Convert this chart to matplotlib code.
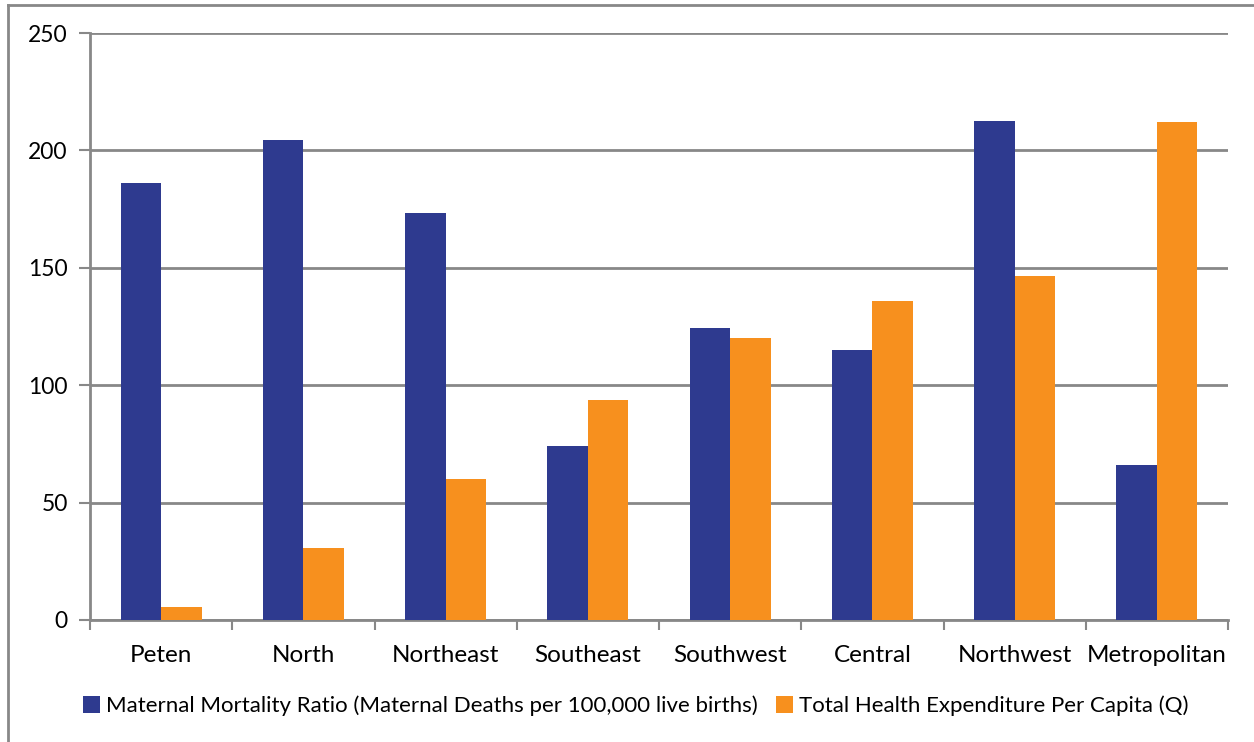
import matplotlib
matplotlib.use("Agg")
import matplotlib.pyplot as plt
import numpy as np
from matplotlib.patches import Patch
from matplotlib.lines import Line2D

categories = ["Peten", "North", "Northeast", "Southeast", "Southwest", "Central", "Northwest", "Metropolitan"]
mmr = [186, 204.5, 173.5, 74, 124.5, 115, 212.5, 66]
the = [5.5, 30.5, 60, 93.5, 120, 136, 146.5, 212]
series_names = ["Maternal Mortality Ratio (Maternal Deaths per 100,000 live births)",
                "Total Health Expenditure Per Capita (Q)"]
yticks = [0, 50, 100, 150, 200, 250]

blue = "#2E3A8F"
orange = "#F7901E"
grid = "#888888"

plt.rcParams['font.family'] = ['Lato', 'DejaVu Sans']

W, H = 1254, 742
fig = plt.figure(figsize=(W / 100, H / 100), dpi=100)
ax = fig.add_axes([90 / W, 1 - 620 / H, (1228 - 90) / W, (620 - 33) / H])

x = np.arange(len(categories))
bw = 0.285
ax.bar(x - bw / 2, mmr, bw, color=blue, zorder=3)
ax.bar(x + bw / 2, the, bw, color=orange, zorder=3)

ax.set_xlim(-0.5, len(categories) - 0.5)
ax.set_ylim(0, 250)
ax.set_yticks(yticks)
ax.set_yticklabels([str(v) for v in yticks], fontsize=16.5)
ax.yaxis.grid(True, color=grid, linewidth=2, zorder=0)
ax.set_axisbelow(True)

ax.set_xticks(np.arange(len(categories) + 1) - 0.5, minor=False)
ax.set_xticklabels([])
ax.set_xticks(x, minor=True)
ax.set_xticklabels(categories, minor=True, fontsize=17.5)
ax.tick_params(axis='x', which='major', length=7, width=1.5, color=grid, direction='out')
ax.tick_params(axis='x', which='minor', length=0, pad=18)
ax.tick_params(axis='y', length=8, width=1.5, color=grid, direction='out', pad=8)

for s in ['top', 'right']:
    ax.spines[s].set_visible(False)
for s in ['left', 'bottom']:
    ax.spines[s].set_color(grid)
    ax.spines[s].set_linewidth(2)

handles = [Patch(facecolor=blue), Patch(facecolor=orange)]
fig.legend(handles, series_names, loc='center', bbox_to_anchor=(636 / W, 1 - 706 / H),
           ncol=2, frameon=False, fontsize=16, handlelength=0.75, handleheight=0.75,
           handletextpad=0.3, columnspacing=0.8)

# chart area border (top and left visible)
fig.add_artist(Line2D([8 / W, 1], [1 - 5 / H, 1 - 5 / H], transform=fig.transFigure, color=grid, linewidth=2))
fig.add_artist(Line2D([8 / W, 8 / W], [0, 1 - 5 / H], transform=fig.transFigure, color=grid, linewidth=2))

fig.savefig("out.png", dpi=100)
